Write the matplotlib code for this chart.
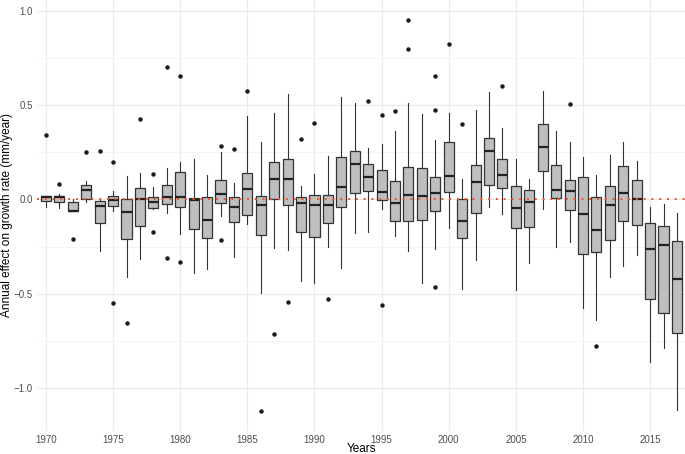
import numpy as np
import matplotlib
matplotlib.use("Agg")
from matplotlib import pyplot as plt

plt.rcParams['font.family'] = ['Liberation Sans', 'DejaVu Sans']

years = list(range(1970, 2018))

# box statistics (mm/year)
med = [0.015, 0.010, -0.062, 0.049, -0.034, -0.005, -0.067, 0.000, -0.016, 0.014,
       0.014, -0.004, -0.109, 0.030, -0.041, 0.056, -0.028, 0.108, 0.108, -0.021,
       -0.028, -0.028, 0.063, 0.189, 0.120, 0.041, -0.021, 0.025, 0.018, 0.032,
       0.123, -0.115, 0.093, 0.256, 0.129, -0.048, -0.016, 0.280, 0.051, 0.046,
       -0.076, -0.162, -0.028, 0.032, 0.000, -0.261, -0.242, -0.423]
q1 = [-0.011, -0.016, -0.063, 0.000, -0.125, -0.034, -0.212, -0.141, -0.046, -0.023,
      -0.042, -0.159, -0.206, -0.018, -0.118, -0.083, -0.189, 0.000, -0.028, -0.173,
      -0.199, -0.123, -0.041, 0.032, 0.042, -0.005, -0.113, -0.116, -0.109, -0.063,
      0.039, -0.206, -0.074, 0.074, 0.058, -0.153, -0.148, 0.148, 0.005, -0.058,
      -0.291, -0.280, -0.217, -0.116, -0.136, -0.527, -0.600, -0.709]
q3 = [0.019, 0.019, -0.014, 0.076, -0.009, 0.018, 0.000, 0.062, 0.014, 0.074,
      0.145, 0.007, 0.012, 0.102, 0.012, 0.139, 0.016, 0.198, 0.215, 0.012,
      0.025, 0.025, 0.226, 0.257, 0.189, 0.153, 0.099, 0.173, 0.164, 0.118,
      0.302, 0.004, 0.180, 0.326, 0.215, 0.072, 0.048, 0.399, 0.180, 0.100,
      0.116, 0.014, 0.069, 0.175, 0.100, -0.127, -0.143, -0.220]
wlo = [-0.042, -0.048, -0.063, -0.016, -0.275, -0.060, -0.410, -0.314, -0.053, -0.070,
       -0.185, -0.388, -0.370, -0.088, -0.307, -0.129, -0.494, -0.256, -0.266, -0.430,
       -0.441, -0.252, -0.362, -0.178, -0.171, -0.053, -0.196, -0.272, -0.444, -0.265,
       -0.150, -0.476, -0.319, -0.039, -0.076, -0.480, -0.335, -0.053, -0.252, -0.228,
       -0.573, -0.637, -0.411, -0.351, -0.296, -0.864, -0.787, -1.115]
whi = [0.020, 0.030, 0.000, 0.095, 0.000, 0.046, 0.123, 0.139, 0.063, 0.168,
       0.196, 0.212, 0.129, 0.249, 0.088, 0.443, 0.302, 0.457, 0.559, 0.072,
       0.132, 0.228, 0.540, 0.511, 0.270, 0.293, 0.362, 0.511, 0.450, 0.316,
       0.459, 0.106, 0.473, 0.568, 0.376, 0.212, 0.109, 0.573, 0.362, 0.302,
       0.222, 0.127, 0.233, 0.302, 0.203, -0.039, -0.025, -0.072]
outliers = {
    1970: [0.342], 1971: [0.079], 1972: [-0.21], 1973: [0.252], 1974: [0.257],
    1975: [0.20, -0.55], 1976: [-0.653], 1977: [0.425], 1978: [0.136, -0.173],
    1979: [0.702, -0.309], 1980: [0.656, -0.332], 1983: [0.284, -0.213],
    1984: [0.268], 1985: [0.575], 1986: [-1.12], 1987: [-0.711], 1988: [-0.543],
    1989: [0.321], 1990: [0.407], 1991: [-0.526], 1994: [0.522],
    1995: [0.446, -0.557], 1996: [0.466], 1997: [0.952, 0.795],
    1999: [0.656, 0.471, -0.464], 2000: [0.824], 2001: [0.40], 2004: [0.603],
    2009: [0.503], 2011: [-0.778],
}

stats = []
for i, yr in enumerate(years):
    stats.append(dict(med=med[i], q1=q1[i], q3=q3[i], whislo=wlo[i], whishi=whi[i],
                      fliers=outliers.get(yr, [])))

fig = plt.figure(figsize=(6.85, 4.54), dpi=100)
ax = fig.add_axes([0.054, 0.051, 0.946, 0.949])

edge = '#333333'
ax.bxp(stats, positions=years, widths=0.75, patch_artist=True, manage_ticks=False,
       boxprops=dict(facecolor='#bebebe', edgecolor=edge, linewidth=0.9),
       medianprops=dict(color='#222222', linewidth=1.6),
       whiskerprops=dict(color=edge, linewidth=0.8),
       capprops=dict(linewidth=0),
       flierprops=dict(marker='o', markersize=2.2, markerfacecolor='#1a1a1a',
                       markeredgecolor='#1a1a1a'),
       zorder=3)

ax.axhline(0, color='#f4511e', linestyle=(0, (1, 3)), linewidth=1.4, zorder=4)

ax.set_xlim(1969.33, 2017.6)
ax.set_ylim(-1.226, 1.056)
ax.set_xticks(range(1970, 2016, 5))
ax.set_yticks([-1.0, -0.5, 0.0, 0.5, 1.0])
ax.set_yticklabels(['\u22121.0', '\u22120.5', '0.0', '0.5', '1.0'])
ax.set_yticks([-0.75, -0.25, 0.25, 0.75], minor=True)

ax.grid(True, which='major', color='#ebebeb', linewidth=0.9, zorder=0)
ax.grid(True, which='minor', axis='y', color='#f3f3f3', linewidth=0.6, zorder=0)
ax.set_axisbelow(True)
for s in ax.spines.values():
    s.set_visible(False)
ax.tick_params(which='both', length=0, labelsize=7, labelcolor='#4d4d4d')
ax.tick_params(axis='x', pad=3)
ax.tick_params(axis='y', pad=3)

ax.set_xlabel('Years', fontsize=8.5)
ax.set_ylabel('Annual effect on growth rate (mm/year)', fontsize=8.5)
ax.xaxis.set_label_coords(0.5, -0.042)
ax.xaxis.label.set_va('center')
ax.yaxis.set_label_coords(-0.046, 0.5)
ax.yaxis.label.set_va('center')

fig.savefig('out.png', dpi=100)
